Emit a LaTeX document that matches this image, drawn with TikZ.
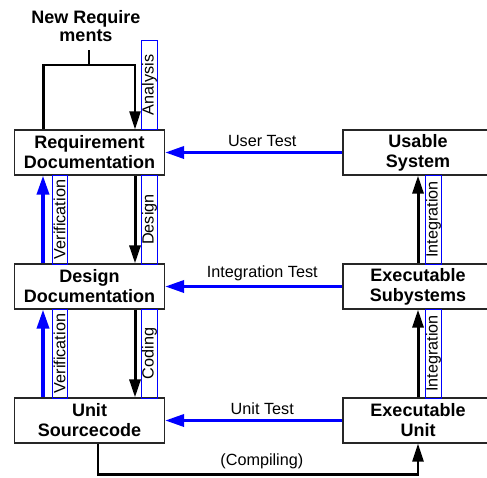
\documentclass[tikz,border=0pt]{standalone}
\usepackage{fontspec}
\setmainfont{Liberation Sans}
\usetikzlibrary{positioning,arrows.meta}

\tikzset{
	doc/.style={draw=black!85, line width=1.2pt, fill=white, minimum width=150pt, minimum height=45pt, inner sep=0pt, align=center, font=\fontsize{18}{20}\selectfont\bfseries},
	phase/.style={draw=blue, line width=1pt, rotate=90, minimum width=89pt, minimum height=15pt, inner sep=0pt, font=\fontsize{16.2}{17}\selectfont},
	down/.style={line width=3pt, -{Triangle[length=18pt,width=11pt]}},
	check/.style={blue, line width=3.5pt, -{Triangle[length=19pt,width=12pt]}},
	feed/.style={line width=2.3pt},
	testlabel/.style={above=1pt, xshift=8.5pt, text=black, font=\fontsize{16.2}{17}\selectfont}
}

\begin{document}
\begin{tikzpicture}
		[x=1pt,y=-1pt,node distance=134pt,on grid]
		\useasboundingbox (0,0) rectangle (487,477);
		% construction side
		\node[doc] (req) at (89.5,152.5) {Requirement\\Documentation};
		\node[doc] (des) [below=of req] {Design\\Documentation};
		\node[doc] (unit) [below=of des] {Unit\\Sourcecode};
		% integration side
		\node[doc] (usable) [right=328.5pt of req] {Usable\\System};
		\node[doc] (exsub) [below=of usable] {Executable\\Subystems};
		\node[doc] (exunit) [below=of exsub] {Executable\\Unit};

		\node[align=center, font=\fontsize{18}{18}\selectfont\bfseries] (newreq) at (86,26) {New Require\\ments};
		\coordinate (stem) at (89,50);
		\coordinate (fork) at (89,65);

		% phase strips
		\node[phase] (analysis) at (149.5,85) {Analysis};
		\node[phase] (design) at (149.5,219.5) {Design};
		\node[phase] (coding) at (149.5,353.5) {Coding};
		\node[phase] (verif1) at (59.5,219.5) {Verification};
		\node[phase] (verif2) at (59.5,353.5) {Verification};
		\node[phase] (integ1) at (433.5,219.5) {Integration};
		\node[phase] (integ2) at (433.5,353.5) {Integration};

		% new requirements feed in
		\draw[feed] (stem) -- (fork);
		\draw[feed] (fork) -| ([xshift=-46pt]req.north);
		\draw[feed,-{Triangle[length=18pt,width=11pt]}] (fork) -| ([xshift=45.5pt]req.north);

		% refinement downwards
		\draw[down] ([xshift=45.5pt]req.south) -- ([xshift=45.5pt]des.north);
		\draw[down] ([xshift=45.5pt]des.south) -- ([xshift=45.5pt]unit.north);

		% verification upwards
		\draw[check] ([xshift=-46.5pt]des.north) -- ([xshift=-46.5pt]req.south);
		\draw[check] ([xshift=-46.5pt]unit.north) -- ([xshift=-46.5pt]des.south);

		% integration upwards
		\draw[down] (exunit.north) -- (exsub.south);
		\draw[down] (exsub.north) -- (usable.south);

		% tests across
		\draw[check] (usable.west) -- node[testlabel] {User Test} (req.east);
		\draw[check] (exsub.west) -- node[testlabel] {Integration Test} (des.east);
		\draw[check] (exunit.west) -- node[testlabel] {Unit Test} (unit.east);

		\draw[line width=2.5pt,-{Triangle[length=18pt,width=11pt]}] ([xshift=8.5pt]unit.south) -- ++(0,31) -| (exunit.south)
			node[pos=0.256, above=1pt, font=\fontsize{16.2}{17}\selectfont] {(Compiling)};
		\end{tikzpicture}
\end{document}
